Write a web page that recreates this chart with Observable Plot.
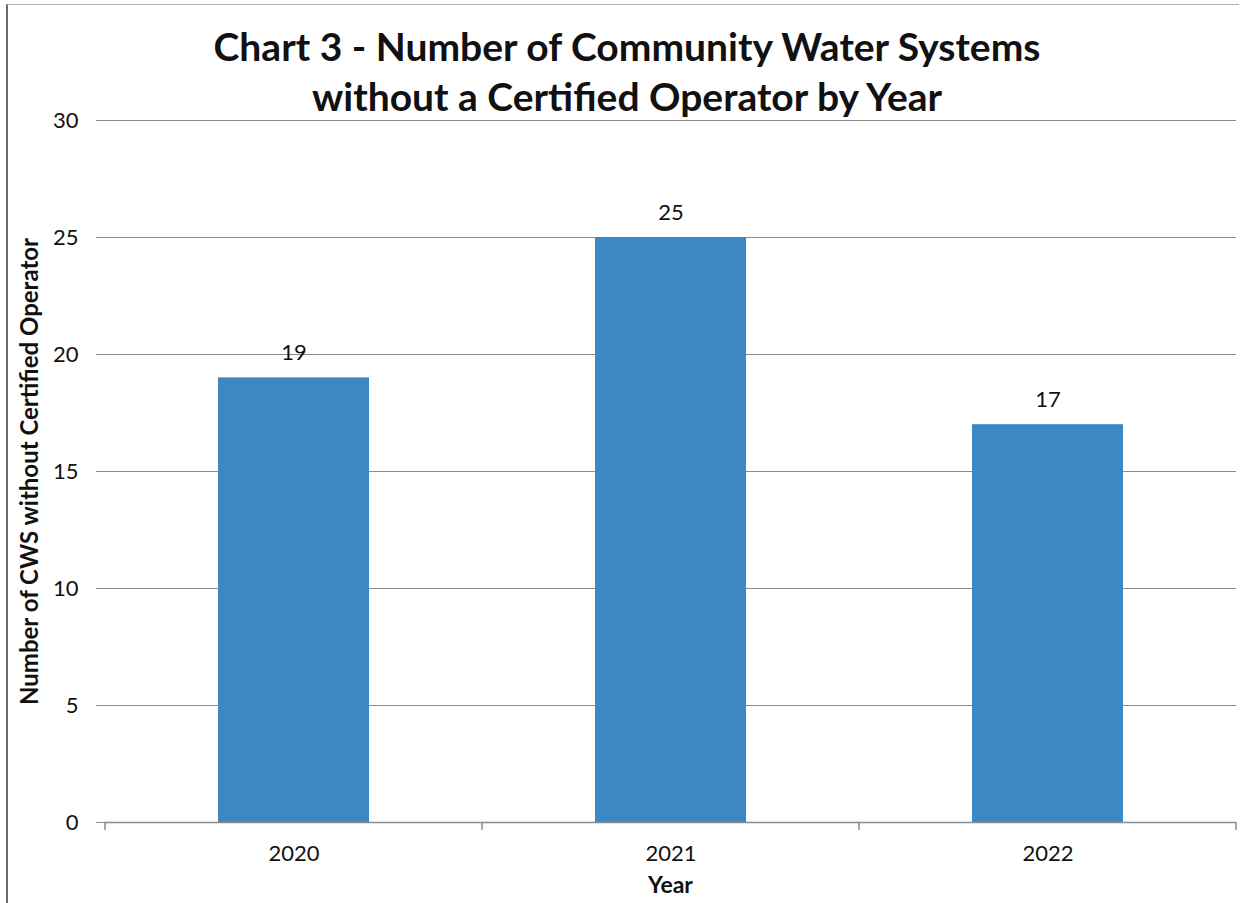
<!DOCTYPE html>
<html>
<head>
<meta charset="utf-8">
<script src="https://cdn.jsdelivr.net/npm/d3@7"></script>
<script src="https://cdn.jsdelivr.net/npm/@observablehq/plot@0.6"></script>
<style>
  html, body { margin: 0; padding: 0; background: #fff; }
  #page {
    position: relative; width: 1243px; height: 903px; overflow: hidden;
    font-family: Lato, "Open Sans", sans-serif; color: #111;
  }
  #frame {
    position: absolute; left: 6px; top: 4px; right: 4px; bottom: -10px;
    border-left: 2px solid #6d6d6d; border-top: 1px solid #b0b0b0;
    pointer-events: none;
  }
  #title {
    position: absolute; left: 0; top: 21px; width: 1254px;
    text-align: center; font-weight: 700; font-size: 39px; line-height: 50px;
    color: #111;
  }
  #chart { position: absolute; left: 0; top: 0; }
</style>
</head>
<body>
<div id="page">
  <div id="frame"></div>
  <div id="chart"></div>
  <div id="title">Chart 3 - Number of Community Water Systems<br>without a Certified Operator by Year</div>
</div>
<script>
// Systems without a certified operator, per year
const years = ["2020", "2021", "2022"];
const counts = [19, 25, 17];
const yTicks = [0, 5, 10, 15, 20, 25, 30];

const data = years.map((year, i) => ({year, count: counts[i]}));

const barColor = "#3b88c4";
const gridColor = "#8c8c8c";

const chart = Plot.plot({
  width: 1243,
  height: 903,
  marginTop: 120,
  marginBottom: 81,
  marginLeft: 104,
  marginRight: 7,
  style: {fontFamily: "Lato, 'Open Sans', sans-serif", fontSize: "22px", color: "#111", background: "transparent"},
  x: {domain: years, paddingInner: 0.6, paddingOuter: 0.3, label: null},
  y: {domain: [0, 30], label: null},
  marks: [
    Plot.gridY(yTicks, {stroke: gridColor, strokeOpacity: 1, strokeWidth: 1.2}),
    Plot.barY(data, {x: "year", y: "count", fill: barColor}),
    Plot.ruleY([0], {stroke: gridColor, strokeWidth: 1.5}),
    Plot.ruleX([0], {frameAnchor: "left", stroke: gridColor, strokeWidth: 1.5}),
    Plot.axisY(yTicks, {tickSize: 8, tickPadding: 18, stroke: gridColor, fontSize: 22, label: null}),
    Plot.axisX({tickSize: 0, tickPadding: 23, fontSize: 22, label: null}),
    Plot.text(data, {x: "year", y: "count", text: d => String(d.count), lineAnchor: "bottom", dy: -18, fontSize: 22, fill: "#111"}),
    Plot.text(["Number of CWS without Certified Operator"], {frameAnchor: "left", textAnchor: "middle", rotate: -90, dx: -74, fontSize: 24, fontWeight: "bold", fill: "#111"}),
    Plot.text(["Year"], {frameAnchor: "bottom", dy: 70, fontSize: 23, fontWeight: "bold", fill: "#111"})
  ]
});

// Extend the gridlines left to meet the y-axis ticks
d3.select(chart).selectAll("line").filter(function () {
  return this.parentNode && this.parentNode.getAttribute("aria-label") === "y-grid";
}).attr("x1", 96);

// Category separator ticks on the x-axis, placed from the band scale
const xs = chart.scale("x");
const ys = chart.scale("y");
const gap = xs.step - xs.bandwidth;
const bounds = years.map(y => xs.apply(y) - gap / 2).concat([xs.apply(years[years.length - 1]) + xs.bandwidth + gap / 2]);
const y0 = ys.apply(0);
d3.select(chart).append("g")
  .attr("stroke", gridColor).attr("stroke-width", 1.5)
  .selectAll("line").data(bounds).join("line")
  .attr("x1", d => d).attr("x2", d => d)
  .attr("y1", y0).attr("y2", y0 + 8);

document.getElementById("chart").appendChild(chart);
</script>
</body>
</html>
